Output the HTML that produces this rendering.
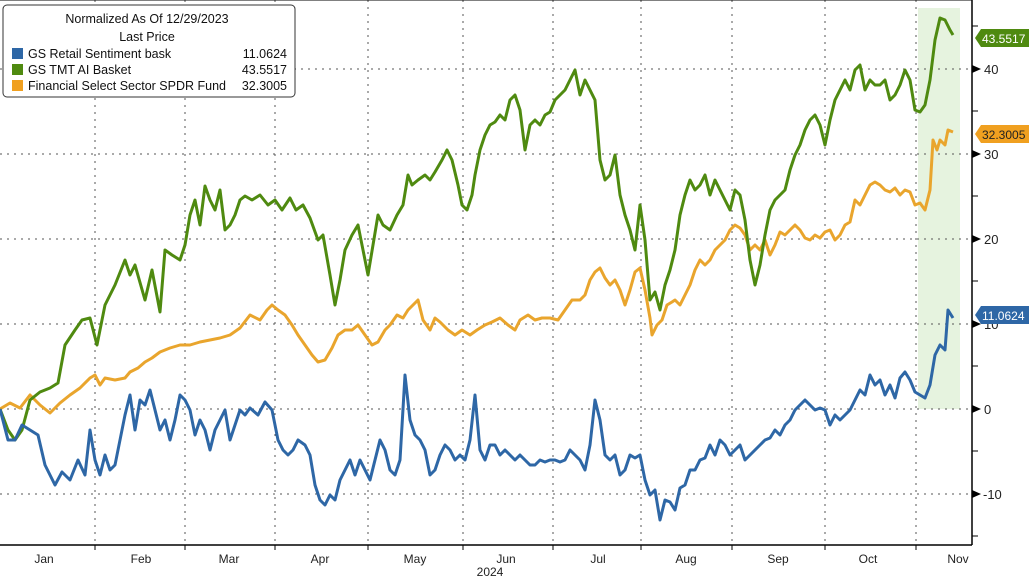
<!DOCTYPE html>
<html><head><meta charset="utf-8"><style>
html,body{margin:0;padding:0;background:#fff;}
svg{display:block;font-family:"Liberation Sans",sans-serif;}
</style></head><body>
<svg width="1029" height="578" viewBox="0 0 1029 578" xmlns="http://www.w3.org/2000/svg">
<rect width="1029" height="578" fill="#fff"/>
<rect x="918" y="8" width="42" height="401" fill="#e6f3df"/>
<g stroke="#555" stroke-width="1" stroke-dasharray="2,5">
<line x1="0" y1="69" x2="972" y2="69"/><line x1="0" y1="154" x2="972" y2="154"/>
<line x1="0" y1="239" x2="972" y2="239"/><line x1="0" y1="324" x2="972" y2="324"/>
<line x1="0" y1="409" x2="972" y2="409"/><line x1="0" y1="494" x2="972" y2="494"/>
<line x1="95" y1="0" x2="95" y2="545"/><line x1="185" y1="0" x2="185" y2="545"/>
<line x1="275" y1="0" x2="275" y2="545"/><line x1="368" y1="0" x2="368" y2="545"/>
<line x1="463" y1="0" x2="463" y2="545"/><line x1="553" y1="0" x2="553" y2="545"/>
<line x1="641" y1="0" x2="641" y2="545"/><line x1="732" y1="0" x2="732" y2="545"/>
<line x1="825" y1="0" x2="825" y2="545"/><line x1="916" y1="0" x2="916" y2="545"/>
</g>
<line x1="0" y1="545" x2="972" y2="545" stroke="#000" stroke-width="1.5"/>
<line x1="972" y1="0" x2="972" y2="545" stroke="#000" stroke-width="1.5"/>
<line x1="0" y1="0" x2="972" y2="0" stroke="#000" stroke-width="1"/>
<g stroke="#000" stroke-width="1">
<line x1="972" y1="26" x2="978" y2="26"/><line x1="972" y1="111" x2="978" y2="111"/>
<line x1="972" y1="196" x2="978" y2="196"/><line x1="972" y1="281" x2="978" y2="281"/>
<line x1="972" y1="366" x2="978" y2="366"/><line x1="972" y1="451" x2="978" y2="451"/>
<line x1="972" y1="536" x2="978" y2="536"/>
<line x1="95" y1="545" x2="95" y2="550"/><line x1="185" y1="545" x2="185" y2="550"/><line x1="275" y1="545" x2="275" y2="550"/><line x1="368" y1="545" x2="368" y2="550"/><line x1="463" y1="545" x2="463" y2="550"/><line x1="553" y1="545" x2="553" y2="550"/><line x1="641" y1="545" x2="641" y2="550"/><line x1="732" y1="545" x2="732" y2="550"/><line x1="825" y1="545" x2="825" y2="550"/><line x1="916" y1="545" x2="916" y2="550"/>
</g>
<g fill="#000">
<path d="M972 65 l9 4 l-9 4z"/><path d="M972 150 l9 4 l-9 4z"/><path d="M972 235 l9 4 l-9 4z"/><path d="M972 320 l9 4 l-9 4z"/><path d="M972 405 l9 4 l-9 4z"/><path d="M972 490 l9 4 l-9 4z"/>
</g>
<g font-size="13" fill="#222">
<text x="984" y="74">40</text><text x="984" y="159">30</text><text x="984" y="244">20</text><text x="984" y="329">10</text><text x="984" y="414">0</text><text x="983" y="499">-10</text>
</g>
<g font-size="12" fill="#222" text-anchor="middle">
<text x="44" y="563">Jan</text><text x="141" y="563">Feb</text><text x="229" y="563">Mar</text><text x="320" y="563">Apr</text><text x="415" y="563">May</text><text x="506" y="563">Jun</text><text x="598" y="563">Jul</text><text x="686" y="563">Aug</text><text x="778" y="563">Sep</text><text x="868" y="563">Oct</text><text x="958" y="563">Nov</text>
<text x="490" y="576">2024</text>
</g>
<g fill="none" stroke-width="3" stroke-linejoin="round">
<polyline stroke="#e9a52d" points="0,409 10,403 20,408 30,395 40,405 50,413 60,403 70,395 80,388 90,378 95,375 100,385 105,378 115,380 125,378 130,372 138,368 145,362 152,358 160,352 170,348 180,345 190,345 200,342 210,340 220,338 230,335 240,328 250,315 260,320 267,310 272,305 278,310 285,315 292,325 298,335 305,345 312,355 318,362 325,360 332,348 338,335 345,330 352,330 358,325 365,335 372,345 378,342 385,330 390,325 397,315 403,318 408,310 413,305 418,300 423,320 430,330 435,318 440,322 448,330 455,335 462,330 470,335 477,330 485,325 492,322 500,318 508,325 515,330 520,320 528,315 535,320 542,318 550,318 558,320 565,310 572,300 580,300 585,295 590,280 595,272 600,268 605,278 610,285 615,280 620,290 625,305 630,290 635,272 640,268 645,290 650,318 652,335 657,325 662,320 667,305 672,302 675,300 680,305 685,295 690,285 695,270 700,260 705,265 710,260 715,250 720,245 725,240 730,230 735,225 740,228 745,235 750,250 755,245 760,250 765,240 770,255 775,245 780,232 785,235 790,230 795,225 800,230 805,238 810,240 815,235 820,238 825,232 830,230 835,240 840,235 845,225 850,222 855,200 860,205 865,195 870,185 875,182 880,185 885,190 890,192 895,188 900,195 905,190 910,192 915,205 920,203 925,210 930,190 933,140 937,150 940,140 945,145 948,130 953,132"/>
<polyline stroke="#4f8a10" points="0,409 8,430 15,440 22,430 30,400 40,392 50,388 58,383 65,345 75,330 82,320 90,318 97,345 105,305 115,285 125,260 130,275 135,265 145,300 152,270 160,312 165,250 172,255 180,260 185,245 190,215 195,200 200,225 205,186 210,200 215,210 220,190 225,230 230,225 235,215 240,200 245,196 252,200 260,195 268,205 275,200 282,210 290,198 296,210 303,205 310,218 318,240 323,235 330,275 335,305 340,280 345,250 352,235 358,225 363,250 368,275 373,245 378,215 383,225 390,230 397,215 403,205 408,175 412,185 418,180 425,175 430,180 435,172 442,160 447,150 452,160 458,185 462,205 467,210 472,195 475,175 480,150 485,135 490,125 495,122 500,115 505,120 510,100 515,95 520,110 525,150 530,125 535,120 540,125 545,115 550,112 555,100 560,95 565,90 570,80 575,70 580,95 585,80 590,90 595,100 600,160 605,180 610,175 615,155 620,195 625,215 630,230 635,250 640,205 645,240 650,300 655,292 660,310 665,285 670,270 675,250 680,215 685,195 690,180 695,190 700,185 705,175 710,195 715,180 720,190 725,200 730,210 735,190 740,195 745,220 750,260 755,285 760,265 765,235 770,210 775,200 780,195 785,190 790,170 795,155 800,145 805,130 810,120 815,115 820,125 825,145 830,120 835,100 840,90 845,80 850,90 855,70 860,65 865,90 870,80 875,85 880,85 885,80 890,100 895,95 900,85 905,70 910,80 915,110 920,112 925,105 930,80 935,40 940,18 945,20 950,30 953,35"/>
<polyline stroke="#2e67a6" points="0,409 8,440 15,440 22,425 30,430 38,435 45,465 55,485 62,472 70,480 78,460 85,475 90,430 95,460 100,475 105,455 110,470 115,465 120,440 125,415 130,395 135,430 140,400 145,405 150,390 155,410 160,430 165,420 170,440 175,420 180,395 185,400 190,410 195,435 200,420 205,430 210,450 215,430 220,420 225,410 230,440 235,425 240,410 245,415 250,408 258,415 265,402 272,410 278,440 283,450 288,455 293,450 298,440 305,445 310,455 315,485 320,500 325,505 330,495 335,500 340,480 345,470 350,460 355,475 360,460 365,470 370,480 375,460 380,440 385,450 390,470 395,475 400,460 405,375 410,420 415,435 420,440 425,450 430,475 435,470 440,455 445,445 450,450 455,460 460,455 465,460 470,440 475,395 480,450 485,460 490,445 495,445 500,455 505,450 510,455 515,460 520,455 525,460 530,465 535,465 540,460 545,462 550,460 555,460 560,462 565,460 570,450 575,455 580,460 585,470 590,445 595,400 600,420 605,455 610,460 615,455 620,475 625,470 630,455 635,458 640,455 645,480 650,495 655,490 660,520 665,500 670,502 675,510 680,488 685,485 690,470 695,470 700,460 705,458 710,445 715,455 720,440 725,445 730,455 735,450 740,445 745,460 750,455 755,450 760,445 765,440 770,438 775,430 780,435 785,425 790,420 795,410 800,405 805,400 810,405 815,410 820,408 825,410 830,425 835,415 840,420 845,415 850,410 855,400 860,390 865,395 870,375 875,385 880,380 885,395 890,385 895,398 900,378 905,372 910,380 915,392 920,395 925,398 930,385 935,355 940,345 945,350 948,310 953,318"/>
</g>
<path d="M975 38 L981 29 L1029 29 L1029 47 L981 47 Z" fill="#4f8a10"/>
<text x="982" y="43" font-size="12" fill="#fff">43.5517</text>
<path d="M975 134 L981 125 L1029 125 L1029 143 L981 143 Z" fill="#f0a020"/>
<text x="982" y="139" font-size="12" fill="#222">32.3005</text>
<path d="M975 315 L981 306 L1029 306 L1029 324 L981 324 Z" fill="#2e67a6"/>
<text x="982" y="320" font-size="12" fill="#fff">11.0624</text>
<rect x="3" y="5" width="292" height="92" rx="4" fill="#fff" stroke="#333" stroke-width="1"/>
<g font-size="12.5" fill="#111">
<text x="147" y="23" text-anchor="middle">Normalized As Of 12/29/2023</text>
<text x="147" y="41" text-anchor="middle">Last Price</text>
<rect x="12" y="48" width="11" height="11" fill="#2e67a6"/>
<text x="28" y="58">GS Retail Sentiment bask</text><text x="287" y="58" text-anchor="end">11.0624</text>
<rect x="12" y="64" width="11" height="11" fill="#4f8a10"/>
<text x="28" y="74">GS TMT AI Basket</text><text x="287" y="74" text-anchor="end">43.5517</text>
<rect x="12" y="80" width="11" height="11" fill="#f0a020"/>
<text x="28" y="90">Financial Select Sector SPDR Fund</text><text x="287" y="90" text-anchor="end">32.3005</text>
</g>
</svg>
</body></html>
